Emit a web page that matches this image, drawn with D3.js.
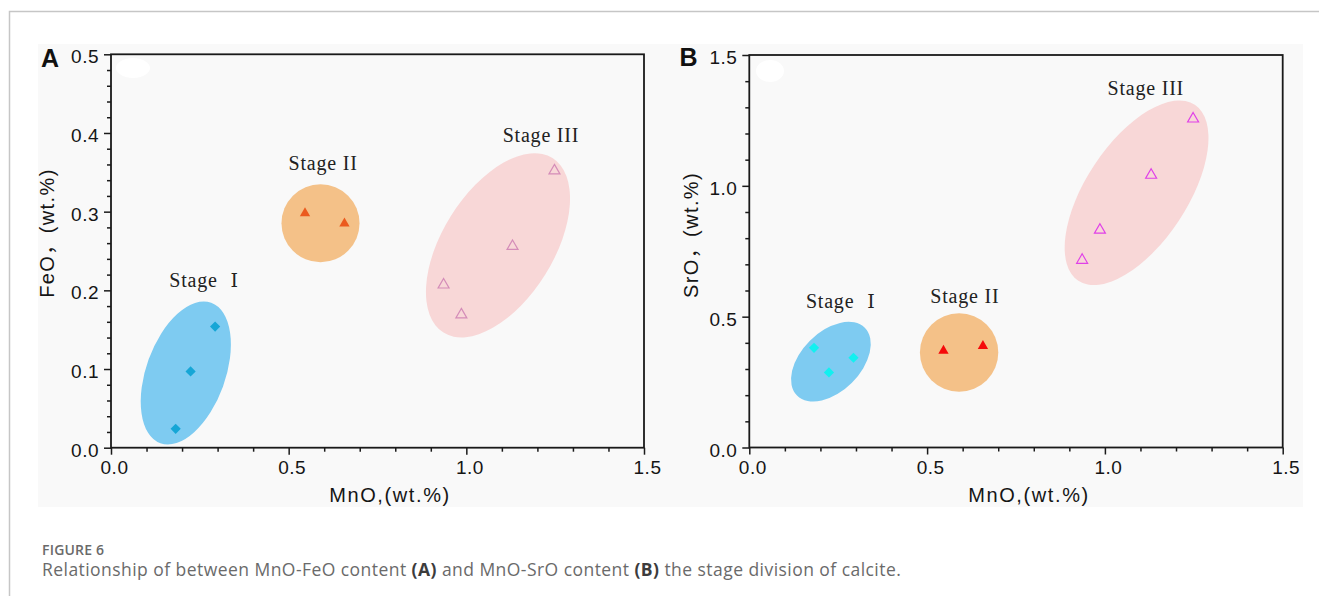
<!DOCTYPE html>
<html>
<head>
<meta charset="utf-8">
<script src="https://cdn.jsdelivr.net/npm/d3@7"></script>
<style>
  html, body { margin: 0; padding: 0; background: #ffffff; }
  svg { display: block; }
</style>
</head>
<body>
<svg id="fig" width="1319" height="596"></svg>
<script>
// ---------------- DATA ----------------
const mnoStage1 = [0.182, 0.224, 0.293];
const feoStage1 = [0.024, 0.097, 0.154];
const sroStage1 = [0.381, 0.287, 0.343];

const mnoStage2 = [0.546, 0.657];
const feoStage2 = [0.298, 0.285];
const sroStage2 = [0.370, 0.388];

const mnoStage3 = [0.936, 0.986, 1.130, 1.248];
const feoStage3 = [0.207, 0.169, 0.256, 0.352];
const sroStage3 = [0.716, 0.831, 1.041, 1.256];

const xTicks = [0, 0.5, 1.0, 1.5];
const yTicksA = [0, 0.1, 0.2, 0.3, 0.4, 0.5];
const yTicksB = [0, 0.5, 1.0, 1.5];

// stage fields: centre (data), major-axis end (data), minor/major ratio
const fieldsA = [
  {stage: 1, cx: 0.2105, cy: 0.0949, ex: 0.282, ey: 0.1842, ratio: 0.53},
  {stage: 2, cx: 0.5896, cy: 0.2853, ex: 0.5896, ey: 0.3349, ratio: 1.0},
  {stage: 3, cx: 1.0891, cy: 0.2572, ex: 1.2425, ey: 0.3681, ratio: 0.54}
];
const fieldsB = [
  {stage: 1, cx: 0.2295, cy: 0.3279, ex: 0.3248, ey: 0.4574, ratio: 0.62},
  {stage: 2, cx: 0.590, cy: 0.363, ex: 0.590, ey: 0.5128, ratio: 1.0},
  {stage: 3, cx: 1.0891, cy: 0.9733, ex: 1.2528, ey: 1.3095, ratio: 0.48}
];

// stage label anchors (data units)
const labelsA = [
  {text: "Stage ", num: "Ⅰ", x: 0.262, y: 0.204},
  {text: "Stage II", num: "", x: 0.597, y: 0.353},
  {text: "Stage III", num: "", x: 1.210, y: 0.389}
];
const labelsB = [
  {text: "Stage ", num: "Ⅰ", x: 0.257, y: 0.533},
  {text: "Stage II", num: "", x: 0.606, y: 0.552},
  {text: "Stage III", num: "", x: 1.115, y: 1.347}
];

// ---------------- DRAW ----------------
const svg = d3.select("#fig");
const fieldColor = {1: "#7ecbf1", 2: "#f4c188", 3: "#f8d7d7"};

// outer gray frame
svg.append("path").attr("d", "M9.5,596V11.5H1319")
  .attr("fill", "none").attr("stroke", "#c6c6c6").attr("stroke-width", 1.5);

// chart image background
svg.append("rect").attr("x", 38).attr("y", 44).attr("width", 1265).attr("height", 463)
  .attr("fill", "#f9f9f9");

function panel(opt) {
  const g = svg.append("g");
  const x = d3.scaleLinear().domain([0, 1.5]).range(opt.xr);
  const y = d3.scaleLinear().domain(opt.yd).range(opt.yr);

  // white blotch artifact
  g.append("ellipse").attr("cx", opt.blob[0]).attr("cy", opt.blob[1])
    .attr("rx", opt.blob[2]).attr("ry", opt.blob[3]).attr("fill", "#ffffff");

  // fields
  opt.fields.forEach(f => {
    const cx = x(f.cx), cy = y(f.cy), ex = x(f.ex), ey = y(f.ey);
    const a = Math.hypot(ex - cx, ey - cy);
    const ang = Math.atan2(ey - cy, ex - cx) * 180 / Math.PI;
    g.append("ellipse").attr("cx", cx).attr("cy", cy)
      .attr("rx", a).attr("ry", a * f.ratio)
      .attr("transform", `rotate(${ang},${cx},${cy})`)
      .attr("fill", fieldColor[f.stage]);
  });

  // points
  const diamond = d3.symbol(d3.symbolSquare, 52)();
  const tri = d3.symbol(d3.symbolTriangle, 46)();
  const triOpen = d3.symbol(d3.symbolTriangle, 52)();
  opt.s1x.forEach((v, i) => {
    g.append("path").attr("d", diamond)
      .attr("transform", `translate(${x(v)},${y(opt.s1y[i])}) rotate(45)`)
      .attr("fill", opt.c1);
  });
  opt.s2x.forEach((v, i) => {
    g.append("path").attr("d", tri)
      .attr("transform", `translate(${x(v)},${y(opt.s2y[i])})`)
      .attr("fill", opt.c2);
  });
  opt.s3x.forEach((v, i) => {
    g.append("path").attr("d", triOpen)
      .attr("transform", `translate(${x(v)},${y(opt.s3y[i])})`)
      .attr("fill", "none").attr("stroke", opt.c3).attr("stroke-width", 1.2);
  });

  // axes
  const x0 = opt.xr[0], x1 = opt.xr[1], yb = opt.yr[0], yt = opt.yr[1];
  const fmt = d3.format(".1f");
  const xMinor = d3.range(0, 1.5001, 0.1).filter(v => Math.abs(v * 2 - Math.round(v * 2)) > 1e-6);
  const yMinor = d3.range(opt.yd[0], opt.yd[1] + 1e-6, opt.minorStep)
    .filter(v => !opt.yTicks.some(t => Math.abs(t - v) < 1e-6));

  const gx = g.append("g").attr("transform", `translate(0,${yb})`)
    .call(d3.axisBottom(x).tickValues(xTicks).tickSize(7).tickFormat(fmt));
  const gxm = g.append("g").attr("transform", `translate(0,${yb})`)
    .call(d3.axisBottom(x).tickValues(xMinor).tickSize(4).tickFormat(""));
  const gy = g.append("g").attr("transform", `translate(${x0},0)`)
    .call(d3.axisLeft(y).tickValues(opt.yTicks).tickSize(7).tickFormat(fmt));
  const gym = g.append("g").attr("transform", `translate(${x0},0)`)
    .call(d3.axisLeft(y).tickValues(yMinor).tickSize(4).tickFormat(""));
  [gx, gxm, gy, gym].forEach(a => {
    a.select(".domain").remove();
    a.selectAll("line").attr("stroke", "#1a1a1a").attr("stroke-width", 1.5);
  });
  [gx, gy].forEach(a => a.selectAll("text")
    .attr("font-family", "'Liberation Sans', Arial, sans-serif")
    .attr("font-size", 19).attr("letter-spacing", 0.5).attr("fill", "#151515"));
  gx.selectAll("text").attr("y", 26).attr("dy", 0).attr("dx", 3);
  gy.selectAll("text").attr("x", -12).attr("y", 2).attr("dy", "0.35em");

  // frame
  g.append("rect").attr("x", x0).attr("y", yt).attr("width", x1 - x0).attr("height", yb - yt)
    .attr("fill", "none").attr("stroke", "#1a1a1a").attr("stroke-width", 1.8);

  // stage labels
  opt.labels.forEach(l => {
    const t = g.append("text").attr("x", x(l.x)).attr("y", y(l.y))
      .attr("text-anchor", "middle")
      .attr("font-family", "'Liberation Serif', 'Times New Roman', serif")
      .attr("font-size", 20).attr("letter-spacing", 0.8).attr("fill", "#222");
    t.append("tspan").text(l.text);
    if (l.num) t.append("tspan").attr("dx", 7)
      .attr("font-family", "'DejaVu Serif', 'Liberation Serif', serif").attr("font-size", 19).text(l.num);
  });

  // axis titles
  g.append("text").attr("x", opt.xTitleX).attr("y", 502).attr("text-anchor", "middle")
    .attr("font-family", "'Liberation Sans', Arial, sans-serif").attr("font-size", 20)
    .attr("letter-spacing", 1.6).attr("fill", "#151515").text("MnO,(wt.%)");
  g.append("text").attr("transform", `translate(${opt.yTitle[0]},${opt.yTitle[1]}) rotate(-90)`)
    .attr("text-anchor", "middle")
    .attr("font-family", "'Liberation Sans', Arial, 'Noto Sans CJK SC', sans-serif").attr("font-size", 20)
    .attr("letter-spacing", 1.4).attr("fill", "#151515").text(opt.yTitleText);

  // panel letter
  g.append("text").attr("x", opt.letterPos[0]).attr("y", opt.letterPos[1])
    .attr("font-family", "'Liberation Sans', Arial, sans-serif").attr("font-weight", "bold")
    .attr("font-size", 25).attr("fill", "#111").text(opt.letter);
}

panel({
  xr: [111, 644], yd: [0, 0.5], yr: [447.7, 54.3], yTicks: yTicksA, minorStep: 0.02,
  fields: fieldsA, labels: labelsA,
  s1x: mnoStage1, s1y: feoStage1, s2x: mnoStage2, s2y: feoStage2, s3x: mnoStage3, s3y: feoStage3,
  c1: "#16a6d6", c2: "#eb5a1e", c3: "#d48cb8",
  blob: [133, 68, 17, 10],
  xTitleX: 390, yTitle: [54, 233], yTitleText: "FeO，(wt.%)",
  letter: "A", letterPos: [41, 67]
});

panel({
  xr: [749.3, 1282.7], yd: [0, 1.5], yr: [447.5, 55], yTicks: yTicksB, minorStep: 0.1,
  fields: fieldsB, labels: labelsB,
  s1x: mnoStage1, s1y: sroStage1, s2x: mnoStage2, s2y: sroStage2, s3x: mnoStage3, s3y: sroStage3,
  c1: "#12f0f0", c2: "#f50a0a", c3: "#e040e8",
  blob: [770, 71, 14, 11],
  xTitleX: 1029, yTitle: [698, 235], yTitleText: "SrO，(wt.%)",
  letter: "B", letterPos: [679.5, 66]
});

// caption
svg.append("text").attr("x", 42).attr("y", 555)
  .attr("font-family", "'Open Sans', 'Noto Sans', sans-serif").attr("font-weight", 600)
  .attr("font-size", 14).attr("letter-spacing", 0.2).attr("fill", "#6a6a6a").text("FIGURE 6");
const cap = svg.append("text").attr("x", 42).attr("y", 576)
  .attr("font-family", "'Open Sans', 'Noto Sans', sans-serif")
  .attr("font-size", 17.5).attr("letter-spacing", 0.45).attr("fill", "#6a6a6a");
cap.append("tspan").text("Relationship of between MnO-FeO content ");
cap.append("tspan").attr("font-weight", 700).attr("fill", "#3c3c3c").text("(A)");
cap.append("tspan").text(" and MnO-SrO content ");
cap.append("tspan").attr("font-weight", 700).attr("fill", "#3c3c3c").text("(B)");
cap.append("tspan").text(" the stage division of calcite.");
</script>
</body>
</html>
